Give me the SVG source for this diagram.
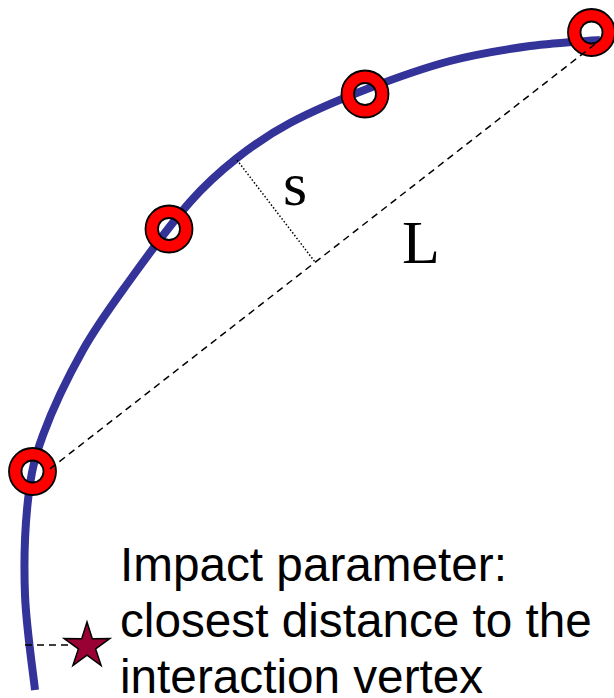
<svg xmlns="http://www.w3.org/2000/svg" width="614" height="698" viewBox="0 0 614 698">
<style>
.track{fill:none;stroke:#333399;stroke-width:8}
.dash{fill:none;stroke:#000;stroke-width:1.5;stroke-dasharray:7,5}
.dot{fill:none;stroke:#000;stroke-width:1.5;stroke-dasharray:1.5,2}
.hit{fill:#ff0000;fill-rule:evenodd;stroke:#000;stroke-width:1.8}
.star{fill:#990033;stroke:#000;stroke-width:1.5;stroke-linejoin:miter}
.sym{font-family:"Liberation Serif","Times New Roman",serif;font-size:62px;fill:#000}
.lbl{font-family:"Liberation Sans",Arial,sans-serif;font-size:47.7px;fill:#000}
</style>
<defs>
<path id="ring" d="M-23.5,0a23.5,23.5 0 1,0 47,0a23.5,23.5 0 1,0 -47,0ZM-11,0a11,11 0 1,0 22,0a11,11 0 1,0 -22,0Z"/>
</defs>
<g id="track">
<path class="track" d="M35,690 C33.3,674.2 26.2,626.7 25,595 C23.8,563.3 25,526.7 28,500 C31,473.3 33.8,460 43,435 C52.2,410 68.5,375.8 83,350 C97.5,324.2 112.2,304.7 130,280 C147.8,255.3 172.2,222.3 190,202 C207.8,181.7 220.3,171.2 237,158 C253.7,144.8 268.3,134.5 290,123 C311.7,111.5 340.3,99.3 367,89 C393.7,78.7 422.8,68.2 450,61 C477.2,53.8 505,49.5 530,46 C555,42.5 588.3,41 600,40"/>
</g>
<g id="hit1"><use href="#ring" class="hit" x="32.5" y="471.5"/></g>
<g id="hit2"><use href="#ring" class="hit" x="169" y="229"/></g>
<g id="hit3"><use href="#ring" class="hit" x="365" y="94"/></g>
<g id="hit4"><use href="#ring" class="hit" x="591.5" y="32.5"/></g>
<g id="connectors">
<line class="dash" x1="595" y1="44.2" x2="46" y2="472"/>
<line class="dot" x1="237" y1="160" x2="315" y2="262"/>
<line class="dash" x1="25" y1="645" x2="87" y2="645"/>
</g>
<g id="vertex">
<polygon class="star" points="87,622 92.3,638.7 109.9,638.6 95.6,648.9 101.1,665.6 87,655.2 72.9,665.6 78.4,648.9 64.1,638.6 81.7,638.7"/>
</g>
<g id="labels">
<text class="sym" x="283" y="205">s</text>
<text class="sym" x="402" y="263">L</text>
<text class="lbl" x="120" y="581">Impact parameter:</text>
<text class="lbl" x="120" y="637">closest distance to the</text>
<text class="lbl" x="120" y="693">interaction vertex</text>
</g>
</svg>
